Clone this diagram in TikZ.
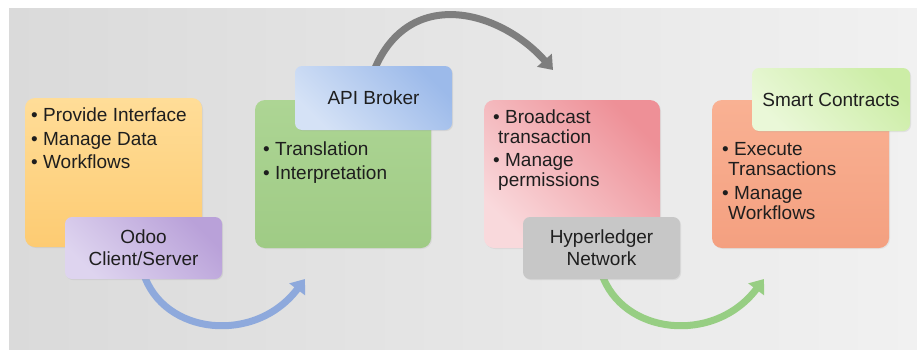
\documentclass[tikz,border=0pt]{standalone}
\usepackage{fontspec}
\setmainfont{Liberation Sans}
\usetikzlibrary{arrows.meta,shadows}
\pgfdeclarelayer{bg}\pgfdeclarelayer{mid}\pgfsetlayers{bg,mid,main}
\definecolor{bgL}{HTML}{DADADA}
\definecolor{bgR}{HTML}{F1F1F1}
\definecolor{orT}{HTML}{FFDD98}
\definecolor{orB}{HTML}{FDCB72}
\definecolor{puD}{HTML}{B9A1D9}
\definecolor{puL}{HTML}{DED4EF}
\definecolor{grT}{HTML}{ADD594}
\definecolor{grB}{HTML}{9FCB85}
\definecolor{blD}{HTML}{9CBAEA}
\definecolor{blL}{HTML}{D5E2F6}
\definecolor{reD}{HTML}{EE9097}
\definecolor{reL}{HTML}{F9D9DC}
\definecolor{gyB}{HTML}{C7C7C7}
\definecolor{saT}{HTML}{F9B193}
\definecolor{saB}{HTML}{F4A080}
\definecolor{lgD}{HTML}{CCEDA6}
\definecolor{lgL}{HTML}{EAF8D8}
\definecolor{arBlue}{HTML}{8EA9DC}
\definecolor{arGray}{HTML}{7E7E7E}
\definecolor{arGreen}{HTML}{97CE83}
\definecolor{txt}{HTML}{1E1E1E}
\begin{document}
\begin{tikzpicture}[x=1pt,y=-1pt,
  bigbox/.style={rounded corners=10pt, minimum width=176pt, minimum height=148pt, inner sep=0pt,
    drop shadow={opacity=0.12, shadow xshift=1pt, shadow yshift=-1pt}},
  tagbox/.style={rounded corners=7pt, minimum width=157pt, minimum height=63pt, inner sep=0pt,
    align=center, font=\fontsize{19}{22}\selectfont, text=txt,
    drop shadow={opacity=0.15, shadow xshift=1pt, shadow yshift=-1pt}},
  listtext/.style={anchor=north west, inner sep=0pt, align=left, text=txt},
  flow/.style={line width=7pt, -{Triangle[width=19pt,length=13pt]}},
]
\useasboundingbox (0,0) rectangle (917,351);
\begin{pgfonlayer}{bg}
  \fill[white] (0,0) rectangle (917,351);
  \shade[left color=bgL, right color=bgR] (9,8) rectangle (917,349);
\end{pgfonlayer}

% left pair
\node[bigbox, top color=orT, bottom color=orB, minimum width=177pt, minimum height=149pt] (odoo) at (113.5,172.5) {};
\node[listtext, font=\fontsize{19}{23.4}\selectfont] (odootext) at (31,107.7)
  {\rule{0pt}{14pt}• Provide Interface\\• Manage Data\\• Workflows};
\node[tagbox, top color=puD, bottom color=puL, shading angle=-45, minimum height=62pt] (client) at (143.5,248) {\rule{0pt}{14pt}Odoo\\Client/Server};

\node[bigbox, top color=grT, bottom color=grB] (broker) at (343,174) {};
\node[listtext, font=\fontsize{19}{24.5}\selectfont] (brokertext) at (263,141)
  {\rule{0pt}{14pt}• Translation\\• Interpretation};
\node[tagbox, top color=blD, bottom color=blL, shading angle=-45, minimum height=64pt] (api) at (373.5,98) {\rule{0pt}{14pt}API Broker};

\node[bigbox, top color=reD, bottom color=reL, shading angle=-45] (ledger) at (572,174) {};
\node[listtext, font=\fontsize{19}{20}\selectfont] (ledgertext) at (493,109.3)
  {\rule{0pt}{14pt}• Broadcast\\\hspace*{5pt}transaction\\[3.4pt]• Manage\\\hspace*{5pt}permissions};
\node[tagbox, fill=gyB, minimum height=62pt] (hyper) at (601.5,248) {\rule{0pt}{14pt}Hyperledger\\Network};

\node[bigbox, top color=saT, bottom color=saB, minimum width=177pt] (exec) at (800.5,174) {};
\node[listtext, font=\fontsize{19}{20}\selectfont] (exectext) at (722,141)
  {\rule{0pt}{14pt}• Execute\\\hspace*{6pt}Transactions\\[4pt]• Manage\\\hspace*{6pt}Workflows};
\node[tagbox, top color=lgD, bottom color=lgL, shading angle=-45, minimum width=158pt] (smart) at (831,99.5) {\rule{0pt}{14pt}Smart Contracts};

% connectors
\coordinate (blueend) at (305,279);
\coordinate (grayend) at (553,70);
\coordinate (greenend) at (764,279);
\begin{pgfonlayer}{mid}
  \draw[flow, arBlue] ([yshift=6pt]client.south) .. controls (163,335) and (255,345) .. (blueend);
  \draw[flow, arGray] ([yshift=-6pt]api.north) .. controls (408,-15) and (500,10) .. (grayend);
  \draw[flow, arGreen] ([yshift=6pt]hyper.south) .. controls (622,335) and (714,345) .. (greenend);
\end{pgfonlayer}
\end{tikzpicture}
\end{document}
